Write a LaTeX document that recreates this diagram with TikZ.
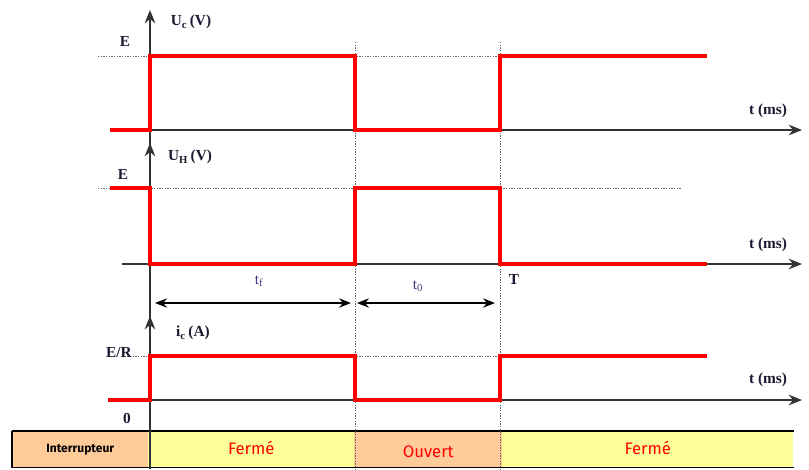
\documentclass[tikz,border=0pt]{standalone}
\usepackage{fontspec}
\setmainfont{Liberation Serif}
\newfontfamily\tabfont{Fira Sans}
\usetikzlibrary{arrows.meta}
\definecolor{sigred}{HTML}{FF0000}
\definecolor{cellor}{HTML}{FFCC99}
\definecolor{cellye}{HTML}{FFFF99}
\definecolor{lblcol}{HTML}{1A1A33}
\definecolor{durcol}{HTML}{3A3A8C}
\begin{document}
\begin{tikzpicture}[x=0.75pt,y=-0.75pt,
  sig/.style={draw=sigred,line width=2.4pt,line join=miter},
  axisline/.style={draw=black!80,line width=1.3pt},
  axarrow/.style={axisline,-{Stealth[length=10pt,width=8pt]}},
  dotline/.style={draw=black!60,line width=0.7pt,dash pattern=on 1pt off 1pt},
  lbl/.style={font=\bfseries\fontsize{11.5}{13}\selectfont,text=lblcol,inner sep=1pt},
  durlbl/.style={font=\fontsize{11.5}{13}\selectfont,text=durcol,inner sep=1pt},
  dimarrow/.style={draw=black,line width=1pt,{Stealth[length=9pt,width=7pt]}-{Stealth[length=9pt,width=7pt]}},
  cell/.style={draw=none,minimum height=27pt,inner sep=0pt,anchor=north west},
  celltxt/.style={font=\tabfont\fontsize{12.5}{14}\selectfont,text=sigred}
]
\useasboundingbox (0,0) rectangle (809,469);

% table
\node[cell,fill=cellor,minimum width=102pt] (c0) at (12,431) {};
\node[cell,fill=cellye,minimum width=154.5pt] (c1) at (148,431) {};
\node[cell,fill=cellor,minimum width=111pt] (c2) at (354,431) {};
\node[cell,fill=cellye,minimum width=218.25pt] (c3) at (502,431) {};
\node[font=\tabfont\bfseries\fontsize{9}{10}\selectfont] (tInt) at (c0.center) {Interrupteur};
\node[celltxt] (tF1) at ([yshift=1pt]c1.center) {Fermé};
\node[celltxt] (tOu) at ([yshift=-1.5pt]c2.center) {Ouvert};
\node[celltxt] (tF2) at ([yshift=1pt]c3.center) {Fermé};
\draw[black,line width=1pt] (c0.north west) -- (c3.north east);
\draw[black,line width=1pt] (c0.south west) -- (c3.south east);
\draw[black,line width=1pt] (c0.north west) -- (c0.south west);

% dotted verticals
\coordinate (v1t) at (355,42);
\coordinate (v1b) at (355,469);
\coordinate (v2t) at (500,42);
\coordinate (v2b) at (500,469);
\draw[dotline] (v1t) -- (v1b);
\draw[dotline] (v2t) -- (v2b);

% dotted horizontals
\coordinate (h1a) at (98,56);  \coordinate (h1b) at (500,56);
\coordinate (h2a) at (98,188); \coordinate (h2b) at (682,188);
\coordinate (h3a) at (122,356); \coordinate (h3b) at (500,356);
\draw[dotline] (h1a) -- (h1b);
\draw[dotline] (h2a) -- (h2b);
\draw[dotline] (h3a) -- (h3b);

% vertical axis
\coordinate (vb) at (150,469);
\coordinate (vt1) at (150,10);
\coordinate (vt2) at (150,143);
\coordinate (vt3) at (150,316);
\draw[axarrow] (vb) -- (vt1);
\draw[axarrow] ([yshift=-10pt]vt2) -- (vt2);
\draw[axarrow] ([yshift=-10pt]vt3) -- (vt3);

% time axes
\coordinate (a1s) at (150,130); \coordinate (a1e) at (802,130);
\coordinate (a2s) at (122,264); \coordinate (a2e) at (802,264);
\coordinate (a3s) at (150,400); \coordinate (a3e) at (802,400);
\draw[axarrow] (a1s) -- (a1e);
\draw[axarrow] (a2s) -- (a2e);
\draw[axarrow] (a3s) -- (a3e);

% signals
\draw[sig] (110,130) -- (150,130) -- (150,56) -- (355,56) -- (355,130) -- (500,130) -- (500,56) -- (707,56);
\draw[sig] (110,188) -- (150,188) -- (150,264) -- (355,264) -- (355,188) -- (500,188) -- (500,264) -- (707,264);
\draw[sig] (108,400) -- (150,400) -- (150,356) -- (355,356) -- (355,400) -- (500,400) -- (500,356) -- (707,356);

% labels
\node[lbl] (lUc) at (191,22) {U\textsubscript{c}\,(V)};
\node[lbl] (lE1) at (125,41) {E};
\node[lbl] (lUH) at (190,157) {U\textsubscript{H}\,(V)};
\node[lbl] (lE2) at (123,174) {E};
\node[lbl] (lic) at (193,333) {i\textsubscript{c}\,(A)};
\node[lbl] (lER) at (119,353) {E/R};
\node[lbl] (l0) at (127,418) {0};
\node[lbl] (lt1) at (768,111) {t (ms)};
\node[lbl] (lt2) at (768,245) {t (ms)};
\node[lbl] (lt3) at (768,380) {t (ms)};
\node[lbl] (lT) at (514,279) {T};

% durations
\coordinate (d1a) at (155,303); \coordinate (d1b) at (351,303);
\coordinate (d2a) at (357,303); \coordinate (d2b) at (495,303);
\draw[dimarrow] (d1a) -- (d1b);
\draw[dimarrow] (d2a) -- (d2b);
\node[durlbl] (ltf) at (259,281) {t\textsubscript{f}};
\node[durlbl] (lto) at (418,286) {t\textsubscript{0}};
\end{tikzpicture}
\end{document}
